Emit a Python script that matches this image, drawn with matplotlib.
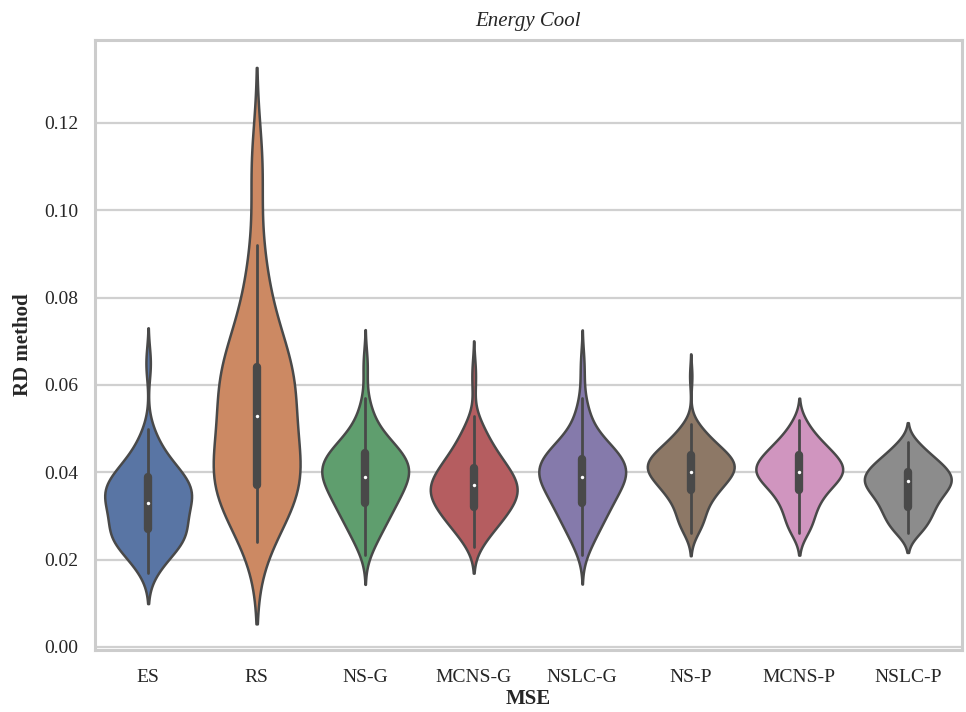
import numpy as np
import pandas as pd
import matplotlib
matplotlib.use("Agg")
import matplotlib.pyplot as plt
import seaborn as sns

methods = ["ES", "RS", "NS-G", "MCNS-G", "NSLC-G", "NS-P", "MCNS-P", "NSLC-P"]

# RD values (binned) and how many runs fall at each value
es_vals = [0.017, 0.019, 0.021, 0.023, 0.025, 0.027, 0.029, 0.031, 0.033, 0.035,
           0.037, 0.039, 0.041, 0.043, 0.045, 0.047, 0.049, 0.050, 0.064, 0.066]
es_counts = [2, 3, 4, 7, 9, 8, 7, 7, 9, 10, 9, 8, 6, 4, 3, 2, 1, 1, 1, 1]

rs_vals = [0.024, 0.028, 0.032, 0.037, 0.040, 0.044, 0.048, 0.053, 0.056, 0.060,
           0.064, 0.068, 0.072, 0.076, 0.080, 0.084, 0.088, 0.092, 0.106, 0.110, 0.114]
rs_counts = [1, 3, 4, 7, 5, 4, 3, 3, 4, 4, 6, 2, 2, 2, 1, 1, 1, 1, 1, 1, 1]

nsg_vals = [0.021, 0.023, 0.025, 0.027, 0.029, 0.031, 0.033, 0.035, 0.037, 0.039,
            0.041, 0.043, 0.045, 0.047, 0.049, 0.051, 0.053, 0.055, 0.057, 0.063, 0.066]
nsg_counts = [1, 2, 3, 4, 5, 6, 7, 8, 9, 10, 11, 10, 8, 6, 4, 2, 2, 1, 1, 1, 1]

mcnsg_vals = [0.023, 0.025, 0.027, 0.029, 0.031, 0.033, 0.035, 0.037, 0.039,
              0.041, 0.043, 0.045, 0.047, 0.049, 0.051, 0.053, 0.060, 0.064]
mcnsg_counts = [2, 3, 5, 7, 8, 10, 11, 11, 10, 8, 7, 5, 4, 3, 2, 1, 1, 1]

nslcg_vals = [0.021, 0.023, 0.025, 0.027, 0.029, 0.031, 0.033, 0.035, 0.037, 0.039,
              0.041, 0.043, 0.045, 0.047, 0.049, 0.051, 0.053, 0.055, 0.057, 0.062, 0.066]
nslcg_counts = [1, 2, 3, 4, 5, 6, 7, 8, 9, 11, 11, 10, 8, 6, 3, 2, 2, 1, 1, 1, 1]

nsp_vals = [0.026, 0.028, 0.030, 0.032, 0.034, 0.036, 0.038, 0.040, 0.042,
            0.044, 0.046, 0.048, 0.050, 0.051, 0.062]
nsp_counts = [2, 4, 4, 4, 6, 8, 10, 13, 14, 11, 8, 5, 3, 1, 1]

mcnsp_vals = [0.026, 0.028, 0.030, 0.032, 0.034, 0.036, 0.038, 0.040, 0.042,
              0.044, 0.046, 0.048, 0.050, 0.052]
mcnsp_counts = [3, 4, 4, 5, 6, 8, 11, 14, 13, 10, 8, 5, 3, 2]

nslcp_vals = [0.026, 0.028, 0.030, 0.032, 0.034, 0.036, 0.038, 0.040, 0.042,
              0.044, 0.046, 0.047]
nslcp_counts = [4, 6, 7, 8, 9, 12, 14, 13, 10, 7, 3, 2]

groups = [
    (es_vals, es_counts), (rs_vals, rs_counts), (nsg_vals, nsg_counts),
    (mcnsg_vals, mcnsg_counts), (nslcg_vals, nslcg_counts), (nsp_vals, nsp_counts),
    (mcnsp_vals, mcnsp_counts), (nslcp_vals, nslcp_counts),
]

rows = []
for name, (vals, counts) in zip(methods, groups):
    for v in np.repeat(vals, counts):
        rows.append((name, v))
df = pd.DataFrame(rows, columns=["method", "rd"])

sns.set_theme(style="whitegrid")
plt.rcParams["font.family"] = ["Liberation Serif", "DejaVu Serif"]

fig = plt.figure(figsize=(9.66, 7.12), dpi=100)
ax = fig.add_axes([0.0983, 0.0871, 0.8976, 0.8567])

sns.violinplot(
    data=df,
    x="method",
    y="rd",
    hue="method",
    order=methods,
    hue_order=methods,
    palette="deep",
    density_norm="width",
    inner="box",
    inner_kws=dict(box_width=6, whis_width=2, marker=".", markersize=2.5),
    linewidth=1.8,
    legend=False,
    ax=ax,
)

ax.set_ylim(-0.0007, 0.139)
ax.set_xlim(-0.49, 7.5)
ax.set_yticks([0.0, 0.02, 0.04, 0.06, 0.08, 0.10, 0.12])
ax.set_yticklabels(["0.00", "0.02", "0.04", "0.06", "0.08", "0.10", "0.12"])
ax.tick_params(axis="both", labelsize=14)
ax.tick_params(axis="y", pad=6)
ax.tick_params(axis="x", pad=8)
ax.set_xlabel("MSE", fontsize=15, fontweight="bold", labelpad=2)
ax.set_ylabel("RD method", fontsize=15, fontweight="bold", labelpad=8)
ax.set_title("Energy Cool", fontsize=15, fontstyle="italic", pad=10)
ax.grid(axis="y", color="#d0d0d0", linewidth=1.6)
ax.grid(axis="x", visible=False)
for sp in ax.spines.values():
    sp.set_color("#cccccc")
    sp.set_linewidth(2.2)

fig.savefig("out.png", dpi=100)
